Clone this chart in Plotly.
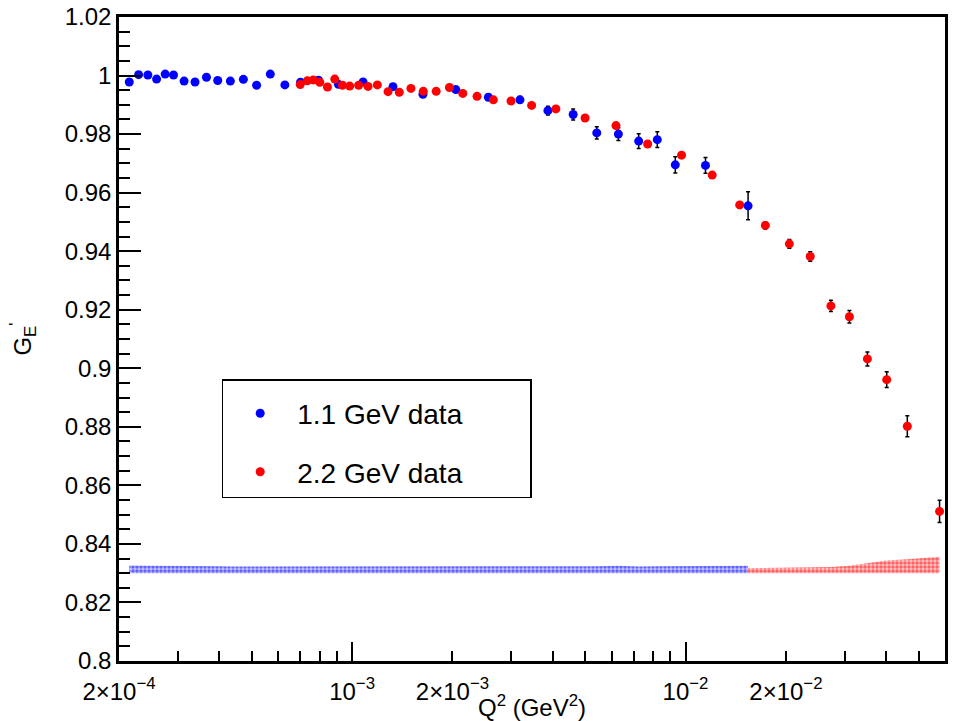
import math
import plotly.graph_objects as go

# ---------------- data ----------------
q_blue = [2.147e-4, 2.290e-4, 2.441e-4, 2.593e-4, 2.751e-4, 2.914e-4, 3.135e-4, 3.381e-4,
          3.659e-4, 3.954e-4, 4.315e-4, 4.721e-4, 5.172e-4, 5.685e-4, 6.287e-4, 7.006e-4,
          7.930e-4, 9.100e-4, 1.0789e-3, 1.3264e-3, 1.6315e-3, 2.047e-3, 2.563e-3, 3.188e-3,
          3.866e-3, 4.603e-3, 5.418e-3, 6.290e-3, 7.237e-3, 8.229e-3, 9.318e-3, 1.1478e-2,
          1.5403e-2]
ge_blue = [0.9978, 1.0003, 1.0002, 0.9988, 1.0005, 1.0002, 0.9981, 0.9978,
           0.9994, 0.9983, 0.9981, 0.9987, 0.9967, 1.0005, 0.9968, 0.9977,
           0.9984, 0.9970, 0.9978, 0.9962, 0.9936, 0.9952, 0.9926, 0.9917,
           0.9880, 0.9867, 0.9804, 0.9800, 0.9776, 0.9781, 0.9695, 0.9693,
           0.9555]
err_blue = [0.0006, 0.0006, 0.0006, 0.0006, 0.0006, 0.0006, 0.0006, 0.0006,
            0.0006, 0.0006, 0.0006, 0.0006, 0.0006, 0.0006, 0.0006, 0.0007,
            0.0007, 0.0007, 0.0008, 0.0008, 0.0009, 0.0009, 0.0010, 0.0011,
            0.0015, 0.0019, 0.0021, 0.0022, 0.0025, 0.0027, 0.0028, 0.0027,
            0.0048]

q_red = [6.992e-4, 7.338e-4, 7.645e-4, 8.002e-4, 8.437e-4, 8.872e-4, 9.357e-4, 9.838e-4,
         1.0466e-3, 1.1166e-3, 1.1907e-3, 1.2818e-3, 1.3853e-3, 1.5015e-3, 1.6349e-3,
         1.7875e-3, 1.9588e-3, 2.148e-3, 2.370e-3, 2.653e-3, 2.997e-3, 3.455e-3, 4.085e-3,
         4.998e-3, 6.187e-3, 7.698e-3, 9.730e-3, 1.2023e-2, 1.4536e-2, 1.7354e-2, 2.0483e-2,
         2.366e-2, 2.729e-2, 3.101e-2, 3.511e-2, 4.012e-2, 4.625e-2, 5.779e-2]
ge_red = [0.9969, 0.9982, 0.9985, 0.9977, 0.9961, 0.9988, 0.9967, 0.9964,
          0.9967, 0.9963, 0.9968, 0.9945, 0.9943, 0.9956, 0.9946,
          0.9946, 0.9959, 0.9939, 0.9929, 0.9917, 0.9913, 0.9898, 0.9886,
          0.9855, 0.9829, 0.9766, 0.9728, 0.9660, 0.9558, 0.9488, 0.9425,
          0.9382, 0.9213, 0.9176, 0.9032, 0.8961, 0.8802, 0.8511]
err_red = [0.0004, 0.0004, 0.0004, 0.0004, 0.0004, 0.0004, 0.0004, 0.0004,
           0.0004, 0.0004, 0.0004, 0.0004, 0.0004, 0.0004, 0.0004,
           0.0004, 0.0004, 0.0005, 0.0005, 0.0005, 0.0005, 0.0005, 0.0006,
           0.0006, 0.0007, 0.0008, 0.0009, 0.0010, 0.0011, 0.0012, 0.0015,
           0.0016, 0.0019, 0.0021, 0.0024, 0.0027, 0.0036, 0.0038]

# systematic bands (drawn above a baseline)
band_base = 0.830
band_blue_q = q_blue
band_blue_sys = [0.0026, 0.0026, 0.0025, 0.0025, 0.0025, 0.0026, 0.0026, 0.0025,
                 0.0025, 0.0024, 0.0023, 0.0023, 0.0023, 0.0023, 0.0022, 0.0022,
                 0.0022, 0.0022, 0.0022, 0.0022, 0.0022, 0.0022, 0.0022, 0.0022,
                 0.0023, 0.0023, 0.0024, 0.0025, 0.0023, 0.0024, 0.0024, 0.0024,
                 0.0025]
band_red_q = [1.5403e-2, 1.7354e-2, 2.0483e-2, 2.366e-2, 2.729e-2, 3.101e-2,
              3.511e-2, 4.012e-2, 4.625e-2, 5.779e-2]
band_red_sys = [0.0017, 0.0018, 0.0019, 0.0020, 0.0021, 0.0025, 0.0033, 0.0043, 0.0048, 0.0056]

x_tickvals = [2e-4, 1e-3, 2e-3, 1e-2, 2e-2]
x_ticktext = ["2×10<sup>−4</sup>", "10<sup>−3</sup>", "2×10<sup>−3</sup>",
              "10<sup>−2</sup>", "2×10<sup>−2</sup>"]
x_long_ticks = [1e-3, 1e-2]
x_minor_ticks = [3e-4, 4e-4, 5e-4, 6e-4, 7e-4, 8e-4, 9e-4,
                 3e-3, 4e-3, 5e-3, 6e-3, 7e-3, 8e-3, 9e-3,
                 3e-2, 4e-2, 5e-2]
y_tickvals = [0.8, 0.82, 0.84, 0.86, 0.88, 0.9, 0.92, 0.94, 0.96, 0.98, 1.0, 1.02]
y_ticktext = ["0.8", "0.82", "0.84", "0.86", "0.88", "0.9", "0.92", "0.94",
              "0.96", "0.98", "1", "1.02"]

legend_names = ["1.1 GeV data", "2.2 GeV data"]

x_range = [2e-4, 0.06]
y_range = [0.8, 1.02]

BLUE = "rgb(0,0,255)"
RED = "rgb(255,0,0)"
FONT = "Liberation Sans, Arial, Helvetica, sans-serif"
PAD = "&nbsp;" * 8

W, H = 954, 721
L, R, T, B = 119, 945, 17, 661

fig = go.Figure()

# bands
for qs, sys, col, tint in [(band_blue_q, band_blue_sys, BLUE, "rgba(0,0,255,0.22)"),
                           (band_red_q, band_red_sys, RED, "rgba(255,0,0,0.22)")]:
    fig.add_trace(go.Scatter(x=qs, y=[band_base] * len(qs), mode="lines",
                             line=dict(width=0, color=col), showlegend=False, hoverinfo="skip"))
    fig.add_trace(go.Scatter(x=qs, y=[band_base + s for s in sys], mode="lines",
                             line=dict(width=0, color=col), fill="tonexty",
                             fillcolor="rgba(255,255,255,0)",
                             fillpattern=dict(shape=".", fgcolor=col, bgcolor=tint,
                                              size=4, solidity=0.6),
                             showlegend=False, hoverinfo="skip"))

fig.add_trace(go.Scatter(
    x=q_blue, y=ge_blue, mode="markers", name=legend_names[0] + PAD, legendgroup="a",
    marker=dict(color=BLUE, size=9),
    error_y=dict(type="data", array=err_blue, color="black", thickness=1.5, width=2)))
fig.add_trace(go.Scatter(
    x=q_red, y=ge_red, mode="markers", name=legend_names[1] + PAD, legendgroup="b",
    marker=dict(color=RED, size=9),
    error_y=dict(type="data", array=err_red, color="black", thickness=1.5, width=2)))

fig.update_layout(
    width=W, height=H,
    margin=dict(l=L, r=W - R, t=T, b=H - B),
    paper_bgcolor="white", plot_bgcolor="white",
    font=dict(family=FONT, color="black", size=23),
    showlegend=True,
    legend=dict(
        x=(221.7 - L) / (R - L), y=(B - 379.3) / (B - T),
        xanchor="left", yanchor="top",
        bordercolor="black", borderwidth=1.5, bgcolor="white",
        font=dict(size=28, family=FONT, color="black"),
        itemwidth=64, tracegroupgap=19, traceorder="grouped",
        title=dict(text="&nbsp;", font=dict(size=6)),
    ),
    xaxis=dict(
        type="log", range=[math.log10(x_range[0]), math.log10(x_range[1])],
        showgrid=False, zeroline=False, automargin=False,
        showline=True, linecolor="black", linewidth=2.5, mirror=True,
        ticks="inside", ticklen=10, tickwidth=1.5, tickcolor="black",
        tickvals=x_tickvals, ticktext=x_ticktext, ticklabelstandoff=7,
        tickfont=dict(size=24),
        minor=dict(tickvals=x_minor_ticks, ticks="inside", ticklen=10, tickwidth=1.5,
                   tickcolor="black", showgrid=False),
        title=dict(text="Q<sup>2</sup> (GeV<sup>2</sup>)", font=dict(size=24), standoff=0),
    ),
    xaxis2=dict(
        type="log", range=[math.log10(x_range[0]), math.log10(x_range[1])],
        overlaying="x", anchor="y", side="bottom", automargin=False,
        showgrid=False, zeroline=False, showline=False,
        ticks="inside", ticklen=19, tickwidth=1.5, tickcolor="black",
        tickvals=x_long_ticks, showticklabels=False,
    ),
    yaxis=dict(
        range=y_range, showgrid=False, zeroline=False, automargin=False,
        showline=True, linecolor="black", linewidth=2.5, mirror=True,
        ticks="inside", ticklen=22, tickwidth=1.5, tickcolor="black",
        tickvals=y_tickvals, ticktext=y_ticktext, ticklabelstandoff=0,
        tickfont=dict(size=24),
        minor=dict(dtick=0.005, tick0=0.8, ticks="inside", ticklen=11, tickwidth=1.5,
                   tickcolor="black", showgrid=False),
        title=dict(text="G<sub>E</sub><sup>'</sup>", font=dict(size=24), standoff=27),
    ),
)

# invisible trace to bind xaxis2
fig.add_trace(go.Scatter(x=[x_range[0]], y=[y_range[0]], xaxis="x2", mode="markers",
                         marker=dict(opacity=0), showlegend=False, hoverinfo="skip"))

fig.write_html("out.html",
               config={"displayModeBar": False},
               post_script="document.body.style.margin='0px';document.body.style.padding='0px';")
